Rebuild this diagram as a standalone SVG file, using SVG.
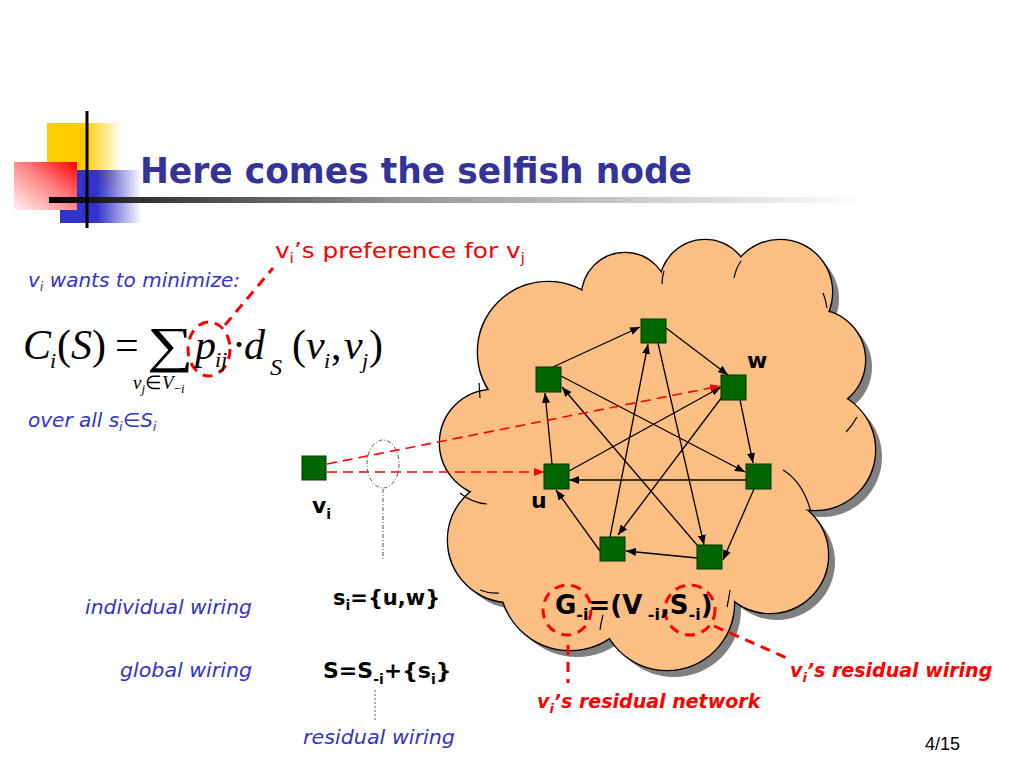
<svg xmlns="http://www.w3.org/2000/svg" width="1024" height="768" viewBox="0 0 1024 768">
<defs>
<style>
.blue{font-family:"DejaVu Sans",sans-serif;font-style:italic;fill:#3333CC}
.red{font-family:"DejaVu Sans",sans-serif;fill:#FF0000}
.redb{font-family:"DejaVu Sans",sans-serif;font-style:italic;font-weight:bold;fill:#FF0000}
.bk{font-family:"DejaVu Sans",sans-serif;font-weight:bold;fill:#000}
.m{font-family:"Liberation Serif",serif;fill:#000}
.mi{font-family:"Liberation Serif",serif;font-style:italic;fill:#000}
.node{fill:#006600;stroke:#003300;stroke-width:1}
.edge{stroke:#000;stroke-width:1.3;fill:none;marker-end:url(#ah)}
.rdash{stroke:#FF0000;stroke-width:1.6;stroke-dasharray:10 6;fill:none}
.rbold{stroke:#FF0000;stroke-width:3;stroke-dasharray:10 7;fill:none}
.inner{stroke:#000;stroke-width:1.2;fill:none}
</style>
<marker id="ah" viewBox="0 0 10 8" refX="10" refY="4" markerWidth="10" markerHeight="8" markerUnits="userSpaceOnUse" orient="auto"><path d="M0,0 L10,4 L0,8 z" fill="#000"/></marker>
<marker id="ahr" viewBox="0 0 10 8" refX="10" refY="4" markerWidth="10" markerHeight="8" markerUnits="userSpaceOnUse" orient="auto"><path d="M0,0 L10,4 L0,8 z" fill="#FF0000"/></marker>
<linearGradient id="gy" x1="0" y1="0" x2="1" y2="0"><stop offset="0" stop-color="#FFCC00"/><stop offset="0.5" stop-color="#FFCC00"/><stop offset="1" stop-color="#FFCC00" stop-opacity="0"/></linearGradient>
<linearGradient id="gb" x1="0" y1="0" x2="1" y2="0"><stop offset="0" stop-color="#3333CC"/><stop offset="0.45" stop-color="#3333CC"/><stop offset="1" stop-color="#3333CC" stop-opacity="0"/></linearGradient>
<linearGradient id="gr" x1="1" y1="0" x2="0" y2="1"><stop offset="0" stop-color="#FF0000"/><stop offset="0.45" stop-color="#FF8080"/><stop offset="1" stop-color="#FFF4F4"/></linearGradient>
<linearGradient id="gl" x1="0" y1="0" x2="1" y2="0"><stop offset="0" stop-color="#000"/><stop offset="0.1" stop-color="#333"/><stop offset="0.4" stop-color="#999"/><stop offset="0.9" stop-color="#fff"/></linearGradient>
<g id="cloudShape">
<circle cx="493" cy="443" r="53"/><circle cx="510" cy="540" r="62"/><circle cx="570" cy="580" r="70"/><circle cx="667" cy="603" r="67"/><circle cx="770" cy="555" r="58"/><circle cx="815" cy="450" r="60"/><circle cx="815" cy="360" r="50"/><circle cx="780" cy="292" r="52"/><circle cx="705" cy="285" r="45"/><circle cx="625" cy="296" r="43"/><circle cx="548" cy="352" r="70"/>
<polygon points="493,443 510,540 570,580 667,603 770,555 815,450 815,360 780,292 705,285 625,296 548,352"/>
</g>
</defs>
<rect width="1024" height="768" fill="#fff"/>

<g id="title-deco">
<rect x="47" y="123" width="75" height="65" fill="url(#gy)"/>
<rect x="60" y="170" width="82" height="53" fill="url(#gb)"/>
<rect x="14" y="162" width="63" height="48" fill="url(#gr)"/>
<rect x="49" y="197" width="912" height="6" fill="url(#gl)"/>
<line x1="87" y1="111" x2="87" y2="228" stroke="#000" stroke-width="3"/>
</g>
<text id="title" x="140" y="183" font-family="DejaVu Sans, sans-serif" font-weight="bold" font-size="36" fill="#333399" textLength="552" lengthAdjust="spacingAndGlyphs">Here comes the selfish node</text>

<g id="cloud">
<use href="#cloudShape" fill="#808080" transform="translate(7,7)"/>
<use href="#cloudShape" fill="#FBBE83" stroke="#000" stroke-width="2.6"/>
<use href="#cloudShape" fill="#FBBE83"/>
<path class="inner" d="M460,493 Q472,503 487,504"/>
<path class="inner" d="M480,590 Q490,594 499,593"/>
<path class="inner" d="M783,470 Q803,482 811,512"/>
<path class="inner" d="M857,417 Q852,426 846,432"/>
<path class="inner" d="M823,293 Q826,300 827,308"/>
<path class="inner" d="M734,278 Q736,268 741,261"/>
<path class="inner" d="M662,284 Q662,277 664,271"/>
<path class="inner" d="M603,615 Q601,622 600,630"/>
<path class="inner" d="M730,590 Q729,598 727,607"/>
<path class="inner" d="M479,383 L480,398"/>
</g>

<g id="connectors">
<line class="edge" x1="553" y1="367" x2="640" y2="327"/>
<line class="edge" x1="666" y1="328" x2="728" y2="375"/>
<line class="edge" x1="740" y1="400" x2="753" y2="463"/>
<line class="edge" x1="754" y1="489" x2="723" y2="560"/>
<line class="edge" x1="697" y1="558" x2="626" y2="551"/>
<line class="edge" x1="600" y1="551" x2="556" y2="490"/>
<line class="edge" x1="552" y1="464" x2="545" y2="393"/>
<line class="edge" x1="746" y1="480" x2="569" y2="480"/>
<line class="edge" x1="561" y1="376" x2="745" y2="472"/>
<line class="edge" x1="569" y1="471" x2="721" y2="387"/>
<line class="edge" x1="722" y1="397" x2="618" y2="535"/>
<line class="edge" x1="610" y1="537" x2="648" y2="344"/>
<line class="edge" x1="658" y1="343" x2="704" y2="545"/>
<line class="edge" x1="697" y1="545" x2="562" y2="387"/>
<line class="rdash" x1="327" y1="464" x2="720" y2="386" marker-end="url(#ahr)"/>
<line class="rdash" x1="327" y1="472" x2="544" y2="472" marker-end="url(#ahr)"/>
<ellipse cx="383" cy="464" rx="16" ry="24" fill="none" stroke="#555" stroke-width="1" stroke-dasharray="4 2 1 2"/>
<line x1="383" y1="489" x2="383" y2="560" stroke="#555" stroke-width="1" stroke-dasharray="4 2 1 2"/>
<line x1="375" y1="690" x2="375" y2="720" stroke="#555" stroke-width="1" stroke-dasharray="2 2"/>
<ellipse class="rbold" cx="209" cy="349" rx="21" ry="27"/>
<line class="rbold" x1="225" y1="325" x2="273" y2="268"/>
<ellipse class="rbold" cx="567" cy="610" rx="24" ry="25"/>
<ellipse class="rbold" cx="690" cy="610" rx="25" ry="25"/>
<line class="rbold" x1="568" y1="645" x2="568" y2="683"/>
<line class="rbold" x1="714" y1="626" x2="787" y2="658"/>
</g>

<g id="node-vi"><rect class="node" x="302" y="456" width="24" height="24"/></g>
<g id="node-t"><rect class="node" x="641" y="319" width="25" height="24"/></g>
<g id="node-a"><rect class="node" x="536" y="367" width="25" height="25"/></g>
<g id="node-w"><rect class="node" x="721" y="375" width="25" height="25"/></g>
<g id="node-u"><rect class="node" x="544" y="464" width="25" height="25"/></g>
<g id="node-r"><rect class="node" x="746" y="464" width="25" height="25"/></g>
<g id="node-bl"><rect class="node" x="600" y="537" width="25" height="24"/></g>
<g id="node-br"><rect class="node" x="697" y="545" width="25" height="24"/></g>

<g id="labels">
<text class="bk" x="747" y="368" font-size="22">w</text>
<text class="bk" x="531" y="508" font-size="22">u</text>
<text class="bk" x="312" y="513" font-size="22">v<tspan font-size="14" dy="6">i</tspan></text>
<text class="bk" x="333" y="605" font-size="21">s<tspan font-size="14" dy="5">i</tspan><tspan dy="-5">={u,w}</tspan></text>
<text class="bk" x="323" y="678" font-size="22">S=S<tspan font-size="14" dy="6">-i</tspan><tspan dy="-6">+{s</tspan><tspan font-size="14" dy="6">i</tspan><tspan dy="-6">}</tspan></text>
<text class="bk" x="555" y="614" font-size="26">G<tspan font-size="16" dy="6">-i</tspan><tspan dy="-6">=(V</tspan><tspan font-size="16" dy="6"> -i</tspan><tspan dy="-6">,S</tspan><tspan font-size="16" dy="6">-i</tspan><tspan dy="-6">)</tspan></text>

<text class="red" x="275" y="258" font-size="22" textLength="250" lengthAdjust="spacingAndGlyphs">v<tspan font-size="14" dy="5">i</tspan><tspan dy="-5">’s preference for v</tspan><tspan font-size="14" dy="5">j</tspan></text>
<text class="blue" x="28" y="287" font-size="20">v<tspan font-size="13" dy="4">i</tspan><tspan dy="-4"> wants to minimize:</tspan></text>
<text class="blue" x="28" y="427" font-size="20">over all s<tspan font-size="13" dy="4">i</tspan><tspan dy="-4">∈S</tspan><tspan font-size="13" dy="4">i</tspan></text>
<text class="blue" x="85" y="614" font-size="19" textLength="167" lengthAdjust="spacingAndGlyphs">individual wiring</text>
<text class="blue" x="120" y="677" font-size="19" textLength="132" lengthAdjust="spacingAndGlyphs">global wiring</text>
<text class="blue" x="303" y="744" font-size="19" textLength="152" lengthAdjust="spacingAndGlyphs">residual wiring</text>
<text class="redb" x="790" y="677" font-size="19">v<tspan font-size="13" dy="5">i</tspan><tspan dy="-5">’s residual wiring</tspan></text>
<text class="redb" x="537" y="708" font-size="19">v<tspan font-size="13" dy="5">i</tspan><tspan dy="-5">’s residual network</tspan></text>
<text x="925" y="750" font-family="Liberation Sans, sans-serif" font-size="18" fill="#000">4/15</text>
</g>

<g id="formula">
<text class="mi" x="23" y="359" font-size="42">C</text>
<text class="mi" x="50" y="368" font-size="22">i</text>
<text class="m" x="57" y="359" font-size="42">(<tspan font-style="italic">S</tspan>)</text>
<text class="m" x="115" y="359" font-size="42">=</text>
<text class="m" font-size="50" transform="translate(147,362) scale(1.3,1)">∑</text>
<text class="mi" x="133" y="389" font-size="19">v<tspan font-size="13" dy="4">j</tspan><tspan dy="-4" font-style="normal">∈</tspan>V<tspan font-size="13" dy="4" font-style="normal">−</tspan><tspan font-size="13">i</tspan></text>
<text class="mi" x="195" y="359" font-size="42">p</text>
<text class="mi" x="215" y="367" font-size="22">ij</text>
<text class="m" x="232" y="359" font-size="42">·</text>
<text class="mi" x="244" y="359" font-size="42">d</text>
<text class="mi" x="270" y="375" font-size="24">S</text>
<text class="m" x="292" y="359" font-size="42">(</text>
<text class="mi" x="306" y="359" font-size="42">v</text>
<text class="mi" x="324" y="368" font-size="22">i</text>
<text class="m" x="331" y="359" font-size="42">,</text>
<text class="mi" x="344" y="359" font-size="42">v</text>
<text class="mi" x="362" y="368" font-size="22">j</text>
<text class="m" x="369" y="359" font-size="42">)</text>
</g>
</svg>
